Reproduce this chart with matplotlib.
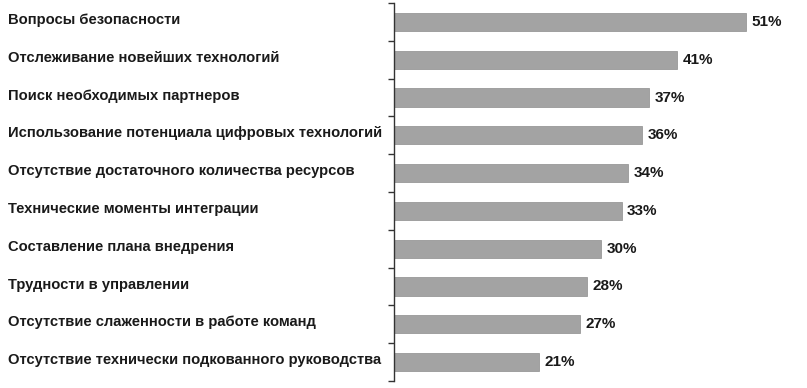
import matplotlib.pyplot as plt
import matplotlib.transforms as mtransforms
import numpy as np

# Категории и доли ответов
categories = [
    "Вопросы безопасности",
    "Отслеживание новейших технологий",
    "Поиск необходимых партнеров",
    "Использование потенциала цифровых технологий",
    "Отсутствие достаточного количества ресурсов",
    "Технические моменты интеграции",
    "Составление плана внедрения",
    "Трудности в управлении",
    "Отсутствие слаженности в работе команд",
    "Отсутствие технически подкованного руководства",
]
values = [51, 41, 37, 36, 34, 33, 30, 28, 27, 21]

fig = plt.figure(figsize=(8.07, 3.88), dpi=100)
ax = fig.add_axes([394 / 807, 1 - 381 / 388, 400 / 807, 378 / 388])

y = np.arange(len(categories))
ax.barh(y, values, height=0.48, color="#a3a3a3", edgecolor="#999999", linewidth=0.6)

ax.set_xlim(0, 58)
ax.set_ylim(len(categories) - 0.5, -0.5)

# Подписи категорий слева, выровнены по левому краю
trans = mtransforms.blended_transform_factory(fig.transFigure, ax.transData)
for yi, name in zip(y, categories):
    ax.text(8 / 807, yi - 0.05, name, transform=trans, ha="left", va="center",
            fontsize=10.6, fontweight="bold", family="Liberation Sans", color="#1a1a1a")

# Значения справа от столбцов
for yi, v in zip(y, values):
    ax.annotate(f"{v}%", (v, yi), xytext=(4, 0), textcoords="offset points",
                ha="left", va="center", fontsize=11, fontweight="bold",
                family="Liberation Sans", color="#1a1a1a")

for side in ["top", "right", "bottom"]:
    ax.spines[side].set_visible(False)
ax.spines["left"].set_color("#333333")
ax.spines["left"].set_linewidth(1.0)

ax.set_xticks([])
ax.set_yticks([])
ax.set_yticks(np.arange(-0.5, len(categories)), minor=True)
ax.tick_params(axis="y", which="minor", length=4, width=1.0, color="#333333", direction="out")

plt.savefig("out.png", dpi=100)
